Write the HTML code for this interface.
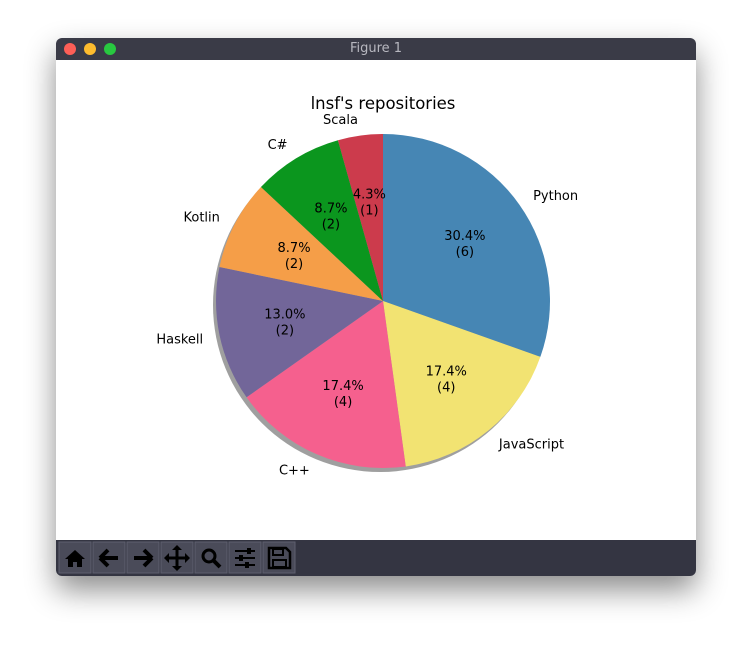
<!DOCTYPE html>
<html><head><meta charset="utf-8">
<style>
html,body{margin:0;padding:0;width:752px;height:650px;background:#fff;overflow:hidden;font-family:"DejaVu Sans","Liberation Sans",sans-serif;}
#win{position:absolute;left:56px;top:38px;width:640px;height:538px;border-radius:6px;overflow:hidden;box-shadow:0 14px 30px rgba(0,0,0,0.45);background:#fff;}
#titlebar{position:absolute;left:0;top:0;width:640px;height:22px;background:#3a3b47;color:#b8b8c0;font-size:13px;text-align:center;line-height:22px;}
.dot{position:absolute;top:5px;width:12px;height:12px;border-radius:50%;}
#toolbar{position:absolute;left:0;top:502px;width:640px;height:36px;background:#343542;}
svg text{font-family:"DejaVu Sans","Liberation Sans",sans-serif;}
</style></head>
<body>
<div id="win">
  <div id="titlebar">Figure 1
    <div class="dot" style="left:8px;background:#fe5f57"></div>
    <div class="dot" style="left:28px;background:#febc2e"></div>
    <div class="dot" style="left:48px;background:#28c840"></div>
  </div>
  <div id="toolbar">
    <svg width="640" height="36" style="position:absolute;left:0;top:0">
      <g fill="#000" stroke="#000">
        <g><rect x="3" y="2" width="32" height="31" fill="#4a4b59" stroke="#5e5f6e"/><path d="M9 19 L19 10 L29 19 L26 19 L26 27 L21 27 L21 22 L17 22 L17 27 L12 27 L12 19Z" stroke="none"/></g>
        <g><rect x="37" y="2" width="32" height="31" fill="#4a4b59" stroke="#5e5f6e"/><path d="M44 18 L52 10 M44 18 L52 26 M45 18 L62 18" stroke-width="4" fill="none"/></g>
        <g><rect x="71" y="2" width="32" height="31" fill="#4a4b59" stroke="#5e5f6e"/><path d="M96 18 L88 10 M96 18 L88 26 M78 18 L95 18" stroke-width="4" fill="none"/></g>
        <g><rect x="105" y="2" width="32" height="31" fill="#4a4b59" stroke="#5e5f6e"/><path d="M121 7 L121 29 M110 18 L132 18" stroke-width="3"/><path d="M121 5 L116 10 L126 10Z M121 31 L116 26 L126 26Z M108 18 L113 13 L113 23Z M134 18 L129 13 L129 23Z" stroke="none"/></g>
        <g><rect x="139" y="2" width="32" height="31" fill="#4a4b59" stroke="#5e5f6e"/><circle cx="153" cy="16" r="6" fill="none" stroke-width="3"/><path d="M157 20 L164 27" stroke-width="4"/></g>
        <g><rect x="173" y="2" width="32" height="31" fill="#4a4b59" stroke="#5e5f6e"/><path d="M179 11 L199 11 M179 18 L199 18 M179 25 L199 25" stroke-width="2"/><rect x="191" y="8" width="4" height="6" stroke="none"/><rect x="183" y="15" width="4" height="6" stroke="none"/><rect x="189" y="22" width="4" height="6" stroke="none"/></g>
        <g><rect x="207" y="2" width="32" height="31" fill="#4a4b59" stroke="#5e5f6e"/><path d="M213 8 L230 8 L234 12 L234 28 L213 28Z" fill="none" stroke-width="2.5"/><rect x="217" y="9" width="10" height="6" fill="none" stroke-width="2"/><rect x="217" y="20" width="13" height="7" fill="none" stroke-width="2"/></g>
      </g>
    </svg>
  </div>
</div>
<svg id="chart" width="752" height="650" style="position:absolute;left:0;top:0"></svg>
<script>
const categories = ["Python","JavaScript","C++","Haskell","Kotlin","C#","Scala"];
const values = [7,4,4,3,2,2,1];
const countLabels = ["6","4","4","2","2","2","1"];
const colors = ["#4686b4","#f2e372","#f5608e","#726699","#f59e48","#0b961e","#cc3b4c"];
const NS="http://www.w3.org/2000/svg";
const svg=document.getElementById('chart');
const cx=383, cy=301, R=167;
const total=values.reduce((a,b)=>a+b,0);
function pt(angDeg,r){const a=angDeg*Math.PI/180;return [cx+r*Math.cos(a), cy-r*Math.sin(a)];}
function mk(tag,attrs){const e=document.createElementNS(NS,tag);for(const k in attrs)e.setAttribute(k,attrs[k]);svg.appendChild(e);return e;}
const t=mk('text',{x:383,y:109,'text-anchor':'middle','font-size':'16.5',fill:'#000'});


t.textContent="lnsf's repositories";
const sh=mk('circle',{cx:cx-3,cy:cy+4,r:R,fill:'#7f7f7f','fill-opacity':'0.75'});


let ang=90;
values.forEach((v,i)=>{
  const sweep=v/total*360;
  const a0=ang, a1=ang-sweep;
  const p0=pt(a0,R), p1=pt(a1,R);
  const large=sweep>180?1:0;
  const path=mk('path',{d:`M${cx} ${cy} L${p0[0]} ${p0[1]} A${R} ${R} 0 ${large} 1 ${p1[0]} ${p1[1]} Z`,fill:colors[i]});
  
  
  const mid=(a0+a1)/2;
  const lp=pt(mid,R*1.1);
  const c=Math.cos(mid*Math.PI/180);
  const lab=mk('text',{x:lp[0],y:lp[1]+5,'text-anchor':c>0?'start':'end','font-size':'13',fill:'#000'});
  
  
  lab.textContent=categories[i];
  const pp=pt(mid,R*0.6);
  const pct=mk('text',{x:pp[0],y:pp[1]-3,'text-anchor':'middle','font-size':'13',fill:'#000'});
  
  
  pct.textContent=(v/total*100).toFixed(1)+'%';
  const cnt=mk('text',{x:pp[0],y:pp[1]+13,'text-anchor':'middle','font-size':'13',fill:'#000'});
  
  
  cnt.textContent='('+countLabels[i]+')';
  ang=a1;
});
</script>
</body></html>
